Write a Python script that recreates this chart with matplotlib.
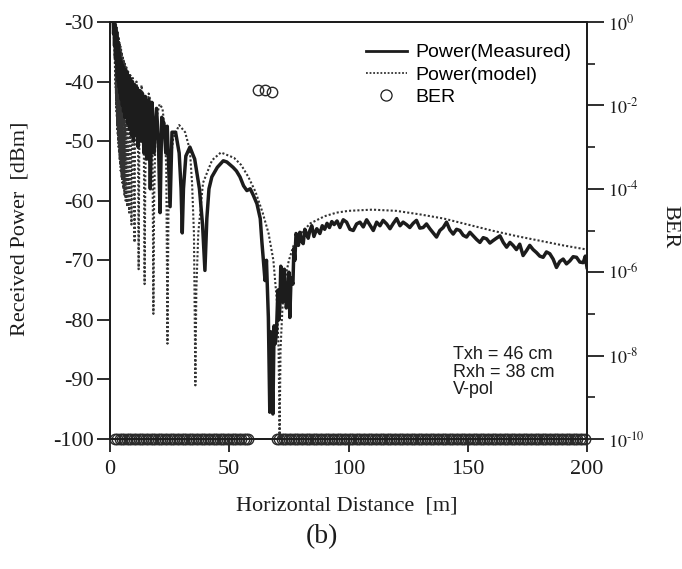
import matplotlib
matplotlib.use("Agg")
import matplotlib.pyplot as plt
from matplotlib.lines import Line2D
from matplotlib.ticker import FixedLocator, NullFormatter
from matplotlib.font_manager import FontProperties

plt.rcParams['font.family'] = ['Liberation Serif', 'DejaVu Serif']
plt.rcParams['mathtext.fontset'] = 'stix'

# ---- two-ray model prediction (dB m) ----
model_dist = [
    1.3, 2.40, 2.44, 2.48, 2.52, 2.57, 2.61, 2.66, 2.71, 2.76, 2.81, 2.87, 2.93,
    2.99, 3.05, 3.12, 3.19, 3.26, 3.34, 3.42, 3.50, 3.59, 3.68, 3.78, 3.88,
    3.99, 4.11, 4.23, 4.36, 4.50, 4.65, 4.80, 4.97, 5.15, 5.35, 5.55, 5.77,
    6.00, 6.27, 6.55, 6.87, 7.20, 7.60, 8.00, 8.50, 9.00, 9.60, 10.3, 10.55,
    11.1, 11.7, 12.0, 12.3, 13.2, 14.1, 14.5, 14.8, 15.3, 16.2, 17.2, 17.8,
    18.2, 18.5, 19.0, 19.8, 20.8, 22.0, 23.0, 23.6, 24.1, 24.5, 25.2, 26.5,
    29.0, 31.5, 33.5, 34.4, 35.2, 35.8, 36.2, 37.0, 39.0, 42.8, 46.5, 52.0,
    55.0, 58.0, 61.0, 64.0, 66.5, 68.5, 70.0, 70.7, 71.1, 71.5, 72.3, 73.5,
    75.0, 77.0, 80.0, 84.0, 90.0, 95.0, 100.0, 110.0, 120.0, 130.0, 140.0,
    150.0, 160.0, 170.0, 180.0, 190.0, 200.0,
]
model_power = [
    -29.0, -41.0, -30.2, -42.0, -30.4, -43.0, -30.6, -44.0, -30.8, -45.0, -31.0,
    -46.0, -31.2, -47.0, -31.5, -48.0, -31.8, -49.0, -32.1, -50.0, -32.4, -51.0,
    -32.8, -52.0, -33.2, -53.0, -33.6, -54.0, -34.1, -55.0, -34.6, -56.0, -35.1,
    -57.0, -35.7, -58.0, -36.3, -59.0, -37.0, -60.0, -37.6, -61.0, -38.3, -62.0,
    -38.9, -64.0, -39.4, -67.0, -47.0, -40.0, -45.0, -71.5, -50.0, -40.6, -44.0,
    -74.0, -56.0, -46.0, -42.0, -43.5, -50.0, -79.0, -60.0, -50.0, -45.5, -43.8,
    -44.5, -48.0, -55.0, -84.0, -62.0, -54.0, -49.5, -47.3, -48.5, -51.5, -57.0,
    -65.5, -91.0, -75.0, -65.5, -57.0, -53.2, -51.9, -52.8, -54.0, -56.0, -58.5,
    -62.0, -65.5, -70.0, -77.0, -85.0, -100.0, -85.0, -78.0, -73.0, -70.0, -67.5,
    -65.5, -63.8, -62.6, -62.0, -61.7, -61.5, -61.7, -62.3, -63.0, -64.0, -65.0,
    -65.9, -66.7, -67.5, -68.2,
]

# ---- measured received power (dB m) ----
meas_dist = [
    1.3, 1.5, 1.7, 1.9, 2.1, 2.3, 2.5, 2.7, 2.9, 3.1, 3.3, 3.5, 3.7, 3.9, 4.1,
    4.3, 4.5, 4.7, 4.95, 5.2, 5.45, 5.7, 5.95, 6.25, 6.55, 6.85, 7.15, 7.5,
    7.85, 8.2, 8.6, 9.0, 9.4, 9.85, 10.3, 10.8, 11.3, 11.8, 12.4, 13.0, 13.6,
    14.2, 14.8, 15.5, 16.2, 16.9, 17.6, 18.5, 19.5, 20.3, 21.0, 21.7, 22.6,
    23.4, 24.0, 25.2, 26.0, 27.5, 29.0, 29.8, 30.3, 30.8, 31.8, 33.5, 35.5,
    37.5, 38.8, 39.8, 40.6, 41.5, 42.7, 45.0, 47.5, 49.0, 51.6, 53.0, 54.5,
    56.0, 57.4, 58.8, 60.0, 61.6, 63.0, 63.7, 65.0, 65.6, 66.4, 67.0, 67.4,
    67.8, 68.3, 68.8, 69.3, 69.8, 70.4, 70.8, 71.2, 71.6, 72.0, 72.4, 72.7,
    73.1, 73.4, 73.9, 74.6, 75.0, 75.4, 75.9, 76.7, 77.1, 77.5, 78.0, 78.4,
    79.0, 79.6, 80.3, 81.0, 81.7, 82.4, 83.1, 83.8, 84.6, 85.5, 86.7, 88.0,
    89.0, 90.0, 91.0, 92.0, 93.0, 94.0, 95.2,
    96.4, 97.8, 99.2, 100.6, 102.0, 103.4, 104.8, 106.2, 107.6, 109.0, 110.4,
    111.8, 113.2, 114.5, 116.0, 117.4, 118.8, 120.2, 121.6, 122.9, 124.3,
    125.7, 127.1, 128.5, 129.9, 131.3, 132.7, 134.1, 135.5, 136.9, 138.3,
    139.7, 141.1, 142.5, 143.9, 145.3, 146.7, 148.1, 149.5, 150.9, 152.3,
    153.7, 155.1, 156.5, 157.9, 159.3, 160.6, 162.0, 163.5, 164.9, 166.3,
    167.7, 169.0, 170.4, 171.8, 173.2, 174.6, 176.0, 177.4, 178.8, 180.2,
    181.6, 183.0, 184.4, 185.8, 187.2, 188.6, 190.0, 191.4, 192.8, 194.2,
    195.6, 197.0, 198.4, 199.3, 200.0,
]
meas_power = [
    -29.0, -32.0, -30.0, -34.0, -30.5, -36.0, -31.5, -37.0, -32.5, -39.0, -33.5,
    -40.0, -35.0, -41.0, -36.0, -42.0, -36.5, -43.0, -37.0, -44.0, -37.5, -45.0,
    -38.0, -46.0, -38.0, -46.0, -38.5, -47.0, -39.0, -48.0, -39.5, -49.0, -40.0,
    -50.0, -40.5, -49.0, -41.0, -51.0, -41.5, -50.0, -42.0, -52.0, -42.5, -53.0,
    -43.0, -58.0, -43.5, -52.0, -44.5, -50.0, -62.0, -46.0, -47.0, -52.0, -47.5,
    -61.0, -48.5, -48.5, -52.0, -58.0, -65.4, -58.0, -52.5, -51.0, -53.0, -58.0,
    -64.0, -71.7, -63.0, -58.0, -56.0, -54.4, -53.3, -53.5, -54.4, -55.0, -56.0,
    -57.5, -58.3, -58.0, -59.0, -60.5, -63.0, -67.0, -73.4, -70.0, -79.6, -95.5,
    -82.0, -88.0, -95.8, -81.0, -84.0, -82.0, -75.0, -80.0, -78.0, -71.0, -72.0,
    -77.0, -76.0, -71.5, -73.5, -78.0, -76.8, -72.0, -79.6, -73.0, -74.0, -68.0,
    -70.0, -65.5, -66.0, -67.5, -65.3, -66.8, -67.2, -64.8, -65.5, -66.3, -65.0,
    -64.2, -66.0, -64.7, -65.5, -64.2, -64.8, -63.8, -64.5, -63.5, -64.0, -63.4,
    -64.5, -63.2, -63.6, -64.8, -65.0, -63.9, -63.6, -64.4, -63.2, -64.1, -65.0,
    -63.6, -64.2, -63.3, -63.9, -64.7, -63.8, -63.0, -64.2, -63.6, -64.0, -64.5,
    -63.8, -63.3, -64.6, -64.5, -63.9, -64.7, -65.4, -66.1, -65.0, -64.5, -63.6,
    -64.9, -65.6, -64.8, -65.0, -65.8, -66.1, -65.3, -65.9, -66.5, -67.0, -66.2,
    -66.4, -67.1, -66.7, -66.3, -65.9, -67.0, -67.8, -67.0, -67.5, -68.2, -67.3,
    -69.2, -68.4, -67.5, -68.2, -68.7, -69.3, -69.5, -68.6, -68.9, -69.8, -71.2,
    -70.2, -69.8, -70.6, -70.1, -69.4, -69.5, -70.3, -70.4, -69.3, -71.2,
]

# ---- bit error rate ----
ber_floor_dist = list(range(2, 59)) + list(range(70, 200))   # error-free samples
ber_floor_value = 1e-10
ber_err_dist = [62, 65, 68]
ber_err_value = [2.4e-2, 2.3e-2, 2.1e-2]

x_ticks = [0, 50, 100, 150, 200]
y_ticks = [-100, -90, -80, -70, -60, -50, -40, -30]
ber_major_exp = [0, -2, -4, -6, -8, -10]
ber_minor_exp = [-1, -3, -5, -7, -9]

W, H = 682, 569
L, R, T, B = 110, 587, 22, 439
ink = '#1c1c1c'
dot_ink = '#333333'

fig = plt.figure(figsize=(W / 100, H / 100), dpi=100)
ax = fig.add_axes([L / W, 1 - B / H, (R - L) / W, (B - T) / H])

ax.plot(model_dist, model_power, color=dot_ink, lw=1.5, ls=(0, (1, 1.0)))
ax.plot(meas_dist, meas_power, color=ink, lw=2.5, solid_joinstyle='round')

ax.set_xlim(0, 200)
ax.set_ylim(-100, -30)
ax.set_xticks(x_ticks)
ax.set_xticklabels([str(v) for v in x_ticks])
ax.set_yticks(y_ticks)
ax.set_yticklabels([str(v) for v in y_ticks])
ax.tick_params(axis='y', direction='out', length=9.5, width=1.3, pad=2,
               labelsize=16, colors=ink)
ax.tick_params(axis='x', direction='out', length=9, width=1.3, pad=6,
               labelsize=16, colors=ink)
for sp in ax.spines.values():
    sp.set_linewidth(1.3)
    sp.set_color(ink)

ax2 = ax.twinx()
ax2.set_yscale('log')
ax2.set_ylim(1e-10, 1)
ax2.yaxis.set_major_locator(FixedLocator([10.0 ** e for e in ber_major_exp]))
ax2.yaxis.set_minor_locator(FixedLocator([10.0 ** e for e in ber_minor_exp]))
# exponents written with a plain hyphen, as in a typeset table
ax2.set_yticklabels([r'$10^{\text{%d}}$' % e for e in ber_major_exp])
ax2.yaxis.set_minor_formatter(NullFormatter())
ax2.tick_params(axis='y', which='major', direction='out', length=12, width=1.3,
                pad=3, labelsize=13, colors=ink)
ax2.tick_params(axis='y', which='minor', direction='out', length=6, width=1.2,
                colors=ink)
for sp in ax2.spines.values():
    sp.set_linewidth(1.3)
    sp.set_color(ink)

ax2.plot(ber_floor_dist, [ber_floor_value] * len(ber_floor_dist), ls='none',
         marker='o', ms=7.5, mfc='none', mec='#2a2a2a', mew=1.0, clip_on=False)
ax2.plot(ber_err_dist, ber_err_value, ls='none', marker='o', ms=7.5,
         mfc='none', mec='#2a2a2a', mew=1.0)

handles = [
    Line2D([], [], color=ink, lw=2.0),
    Line2D([], [], color=dot_ink, lw=1.3, ls=(0, (1, 1.0))),
    Line2D([], [], ls='none', marker='o', ms=8, mfc='none', mec=ink, mew=0.9),
]
fig.legend(handles, ['Power(Measured)', 'Power(model)', 'BER'],
           loc='upper left', bbox_to_anchor=(356 / W, 1 - 34 / H),
           frameon=False, borderpad=0, handlelength=2.1, handletextpad=0.45,
           labelspacing=0.25,
           prop=FontProperties(family='Liberation Sans', size=14))

ax.text(143.8, -84.4, 'Txh = 46 cm\nRxh = 38 cm\nV-pol', family='Liberation Sans',
        size=13, va='top', ha='left', linespacing=1.05, color=ink)

fig.text(20 / W, 1 - 229 / H, 'Received Power  [dBm]', rotation=90,
         ha='center', va='center', size=16, color=ink)
fig.text(347 / W, 1 - 506 / H, 'Horizontal Distance  [m]', ha='center',
         va='center', size=16, color=ink)
fig.text(670 / W, 1 - 227 / H, 'BER', rotation=-90, ha='center', va='center',
         size=16, color=ink)
fig.text(322 / W, 1 - 537 / H, '(b)', ha='center', va='center', size=20,
         color=ink)

fig.savefig('out.png', dpi=100, facecolor='white')
